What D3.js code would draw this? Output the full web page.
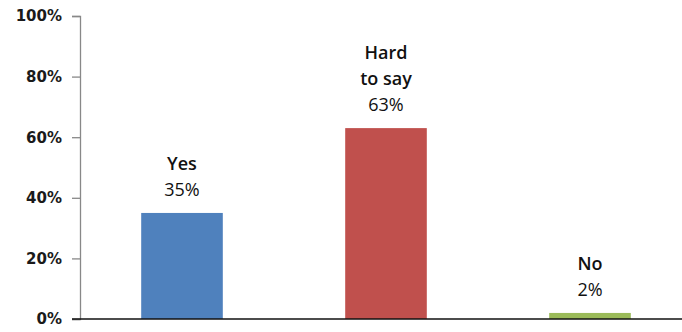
<!DOCTYPE html>
<html>
<head>
  <meta charset="utf-8">
  <script src="https://d3js.org/d3.v7.min.js"></script>
  <style>
    body { margin: 0; background: #fff; }
    svg { display: block; }
  </style>
</head>
<body>
<svg id="chart"></svg>
<script>
var width = 682, height = 332;

// data
var categories = ["Yes", "Hard to say", "No"];
var labelLines = [["Yes"], ["Hard", "to say"], ["No"]];
var values = [35, 63, 2];
var colors = ["#4f81bd", "#c0504d", "#9bbb59"];
var yTicks = [0, 20, 40, 60, 80, 100];

var plotLeft = 80, plotTop = 16, plotBottom = 319;

var svg = d3.select("#chart")
  .attr("width", width)
  .attr("height", height);

var x = d3.scaleBand()
  .domain(categories)
  .range([plotLeft, 692])
  .paddingInner(0.6)
  .paddingOuter(0.3);

var y = d3.scaleLinear()
  .domain([0, 100])
  .range([plotBottom, plotTop]);

// y axis
var yAxis = svg.append("g")
  .attr("transform", "translate(" + plotLeft + ",0)")
  .call(d3.axisLeft(y).tickValues(yTicks).tickSize(8).tickPadding(10).tickFormat(function(d) { return d + "%"; }));
yAxis.select(".domain").attr("stroke", "#888").attr("stroke-width", 1.3);
yAxis.selectAll(".tick line").attr("stroke", "#888").attr("stroke-width", 1.3);
yAxis.selectAll(".tick text")
  .attr("fill", "#1a1a1a")
  .style("font-family", "'DejaVu Sans', Verdana, sans-serif")
  .style("font-weight", "bold")
  .style("font-size", "15px");

// bars
svg.selectAll("rect.bar").data(values).enter().append("rect")
  .attr("class", "bar")
  .attr("x", function(d, i) { return x(categories[i]); })
  .attr("width", x.bandwidth())
  .attr("y", function(d) { return y(d); })
  .attr("height", function(d) { return y(0) - y(d); })
  .attr("fill", function(d, i) { return colors[i]; });

// x axis baseline
svg.append("line")
  .attr("x1", plotLeft - 8).attr("x2", width)
  .attr("y1", y(0)).attr("y2", y(0))
  .attr("stroke", "#111").attr("stroke-width", 1.5);

// labels above bars
var lineGap = 26;
values.forEach(function(v, i) {
  var cx = x(categories[i]) + x.bandwidth() / 2;
  var base = y(v) - 17;
  var g = svg.append("g").attr("text-anchor", "middle")
    .style("font-family", "'Open Sans', 'Noto Sans', sans-serif")
    .style("font-size", "18px")
    .attr("fill", "#111");
  g.append("text")
    .attr("x", cx).attr("y", base)
    .style("font-weight", "500")
    .text(v + "%");
  var lines = labelLines[i];
  lines.forEach(function(t, j) {
    g.append("text")
      .attr("x", cx)
      .attr("y", base - lineGap * (lines.length - j))
      .style("font-weight", "600")
      .text(t);
  });
});
</script>
</body>
</html>
